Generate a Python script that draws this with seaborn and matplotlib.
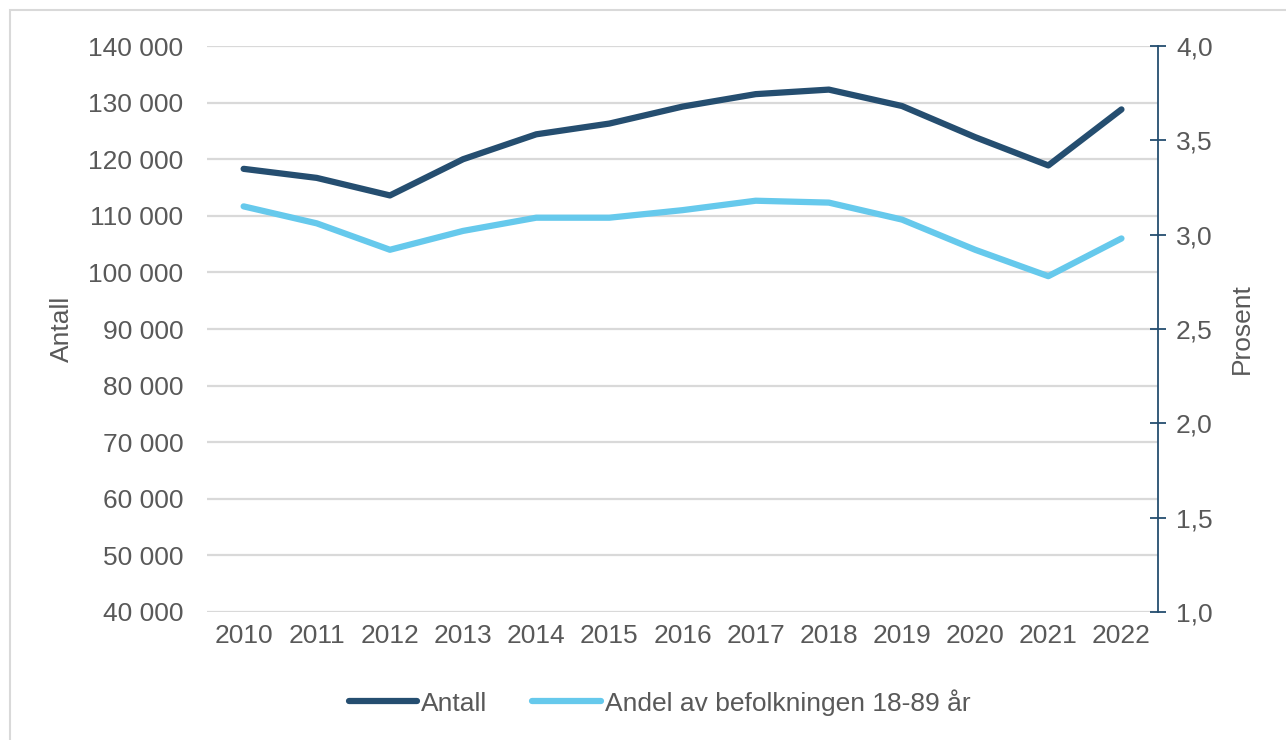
import matplotlib
matplotlib.use("Agg")
import matplotlib.pyplot as plt
from matplotlib.patches import Rectangle
from matplotlib.lines import Line2D
from matplotlib.ticker import FuncFormatter
import numpy as np
import pandas as pd
import seaborn as sns

# data
years = [2010, 2011, 2012, 2013, 2014, 2015, 2016, 2017, 2018, 2019, 2020, 2021, 2022]
antall = [118300, 116700, 113600, 120000, 124400, 126300, 129300, 131500, 132300,
          129400, 123900, 118900, 128800]
andel = [3.15, 3.06, 2.92, 3.02, 3.09, 3.09, 3.13, 3.18, 3.17, 3.08, 2.92, 2.78, 2.98]

dark = "#254e70"
light = "#66c9ec"
txt = "#595959"
fs = 19

sns.set_theme(style="white")
plt.rcParams["font.family"] = ["Liberation Sans", "DejaVu Sans"]

df = pd.DataFrame({"pos": np.arange(len(years)), "antall": antall, "andel": andel})

fig = plt.figure(figsize=(12.86, 7.40), dpi=100)
ax = fig.add_axes([0.161, 0.173, 0.7395, 0.7648])
ax2 = ax.twinx()

sns.lineplot(data=df, x="pos", y="antall", ax=ax, color=dark, linewidth=4.5,
             solid_capstyle="round", legend=False)
sns.lineplot(data=df, x="pos", y="andel", ax=ax2, color=light, linewidth=4.5,
             solid_capstyle="round", legend=False)

ax.set_xlim(-0.5, len(years) - 0.5)
ax.set_ylim(40000, 140000)
ax.set_yticks(range(40000, 140001, 10000))
ax.yaxis.set_major_formatter(FuncFormatter(lambda v, p: f"{int(v):,}".replace(",", " ")))
ax.set_xticks(df["pos"])
ax.set_xticklabels([str(y) for y in years])
ax.grid(axis="y", color="#d9d9d9", linewidth=1.6)
ax.set_axisbelow(True)

ax2.set_ylim(1.0, 4.0)
ax2.set_yticks(np.arange(1.0, 4.01, 0.5))
ax2.yaxis.set_major_formatter(FuncFormatter(lambda v, p: f"{v:.1f}".replace(".", ",")))

for a in (ax, ax2):
    for s in a.spines.values():
        s.set_visible(False)
ax2.spines["right"].set_visible(True)
ax2.spines["right"].set_color(dark)
ax2.spines["right"].set_linewidth(1.3)

ax.tick_params(axis="both", length=0, labelsize=fs, labelcolor=txt, pad=9)
ax.tick_params(axis="y", pad=17)
ax2.tick_params(axis="y", direction="inout", length=12, width=1.3, color=dark,
                labelsize=fs, labelcolor=txt, pad=7)

ax.set_xlabel("")
ax.set_ylabel("Antall", fontsize=fs, color=txt, labelpad=10)
ax2.set_ylabel("Prosent", fontsize=fs, color=txt, labelpad=12)

handles = [Line2D([], [], color=dark, linewidth=4.5), Line2D([], [], color=light, linewidth=4.5)]
fig.legend(handles, ["Antall", "Andel av befolkningen 18-89 år"], loc="center",
           bbox_to_anchor=(0.513, 0.051), ncol=2, frameon=False, fontsize=fs,
           labelcolor=txt, handlelength=2.6, handletextpad=0.15, columnspacing=1.7)

fig.patches.append(Rectangle((10 / 1286, -0.05), 1.2, 1 - 10 / 740 + 0.05,
                             transform=fig.transFigure, fill=False,
                             edgecolor="#d9d9d9", linewidth=1.5))

fig.savefig("out.png", dpi=100)
